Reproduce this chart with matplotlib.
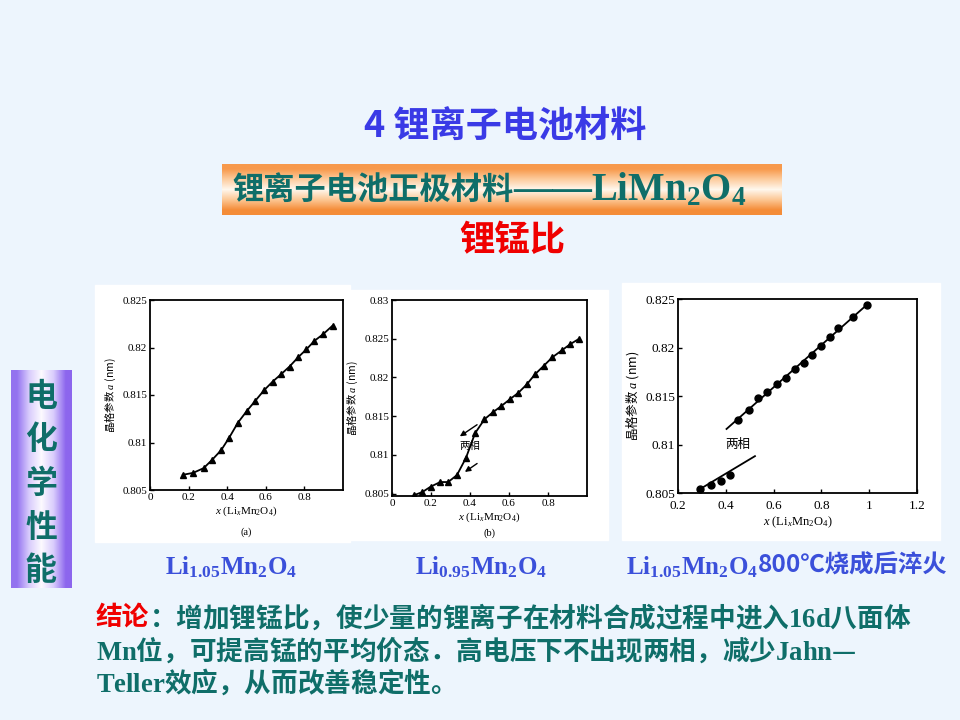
import numpy as np
import matplotlib
matplotlib.use('Agg')
import matplotlib.pyplot as plt
from matplotlib.ticker import FuncFormatter

plt.rcParams['font.family'] = ['Noto Sans CJK SC', 'DejaVu Sans']
plt.rcParams['mathtext.fontset'] = 'custom'
plt.rcParams['mathtext.rm'] = 'Liberation Serif'
plt.rcParams['mathtext.it'] = 'Liberation Serif:italic'
plt.rcParams['mathtext.bf'] = 'Liberation Serif:bold'

# 数据 (a) Li1.05Mn2O4
a_x = [0.170, 0.223, 0.278, 0.323, 0.369, 0.410, 0.456, 0.501, 0.546, 0.591,
       0.635, 0.680, 0.723, 0.769, 0.810, 0.852, 0.897, 0.946]
a_y = [0.8066, 0.8068, 0.8073, 0.8082, 0.8092, 0.8105, 0.8121, 0.8133, 0.8144, 0.8155,
       0.8164, 0.8172, 0.8180, 0.8190, 0.8198, 0.8207, 0.8214, 0.8223]

# 数据 (b) Li0.95Mn2O4
b_x = [0.112, 0.155, 0.198, 0.247, 0.288, 0.333, 0.379, 0.426, 0.474, 0.517,
       0.560, 0.605, 0.647, 0.691, 0.733, 0.778, 0.822, 0.871, 0.914, 0.960]
b_y = [0.8048, 0.8052, 0.8059, 0.8065, 0.8065, 0.8074, 0.8096, 0.8128, 0.8146, 0.8155,
       0.8163, 0.8172, 0.8180, 0.8191, 0.8204, 0.8215, 0.8226, 0.8235, 0.8243, 0.8250]
b_arrow_hi = [(0.448, 0.8141), (0.336, 0.8122)]
b_arrow_lo = [(0.448, 0.8091), (0.362, 0.8076)]
b_note = (0.397, 0.8112)

# 数据 (c) 800℃淬火
c_lo_x = [0.291, 0.340, 0.378, 0.417]
c_lo_y = [0.8054, 0.8058, 0.8062, 0.8069]
c_lo_fit = [(0.285, 0.8053), (0.522, 0.8088)]
c_hi_x = [0.453, 0.495, 0.536, 0.573, 0.613, 0.650, 0.691, 0.729, 0.761, 0.799,
          0.836, 0.871, 0.934, 0.990]
c_hi_y = [0.8125, 0.8136, 0.8148, 0.8154, 0.8162, 0.8169, 0.8178, 0.8184, 0.8192, 0.8202,
          0.8211, 0.8220, 0.8231, 0.8244]
c_hi_fit = [(0.403, 0.8116), (0.990, 0.8244)]
c_note = (0.452, 0.8100)

y_ticks = [0.805, 0.81, 0.815, 0.82, 0.825]
captions = [r'$\mathbf{Li_{1.05}Mn_2O_4}$', r'$\mathbf{Li_{0.95}Mn_2O_4}$',
            r'$\mathbf{Li_{1.05}Mn_2O_4}$']
caption_tail = ['', '', '800℃烧成后淬火']

BG = '#EDF5FD'
TEAL = '#0F6E69'
BLUE = '#3A3AE6'
CAP_BLUE = '#3B50DA'

fig = plt.figure(figsize=(9.6, 7.2), dpi=100, facecolor=BG)
bg = fig.add_axes([0, 0, 1, 1], zorder=-1)
bg.set_xlim(0, 960)
bg.set_ylim(720, 0)
bg.axis('off')
bg.set_facecolor(BG)

# 白色图片底
for (x0, y0, w, h) in [(95, 285, 255, 257), (350, 290, 258, 250), (622, 283, 318, 257)]:
    bg.add_patch(plt.Rectangle((x0, y0), w, h, color='white', zorder=0))

# 标题
bg.text(505, 127, '4 锂离子电池材料', color=BLUE, fontsize=26, fontweight='bold',
        ha='center', va='center')

# 橙色横条
orange = np.array([[0.97, 0.60, 0.30], [0.99, 0.80, 0.62], [1.0, 0.97, 0.93],
                   [0.99, 0.78, 0.58], [0.96, 0.55, 0.22]])
bg.imshow(orange.reshape(5, 1, 3), extent=(222, 782, 215, 164), aspect='auto',
          interpolation='bilinear', zorder=1)
t_ban = bg.text(232, 190, '锂离子电池正极材料', color=TEAL, fontsize=22.5, fontweight='bold',
                ha='left', va='center', zorder=2)
bg.annotate('——LiMn$_\\mathbf{2}$O$_\\mathbf{4}$', xy=(1, 0.5), xycoords=t_ban,
            ha='left', va='center', color=TEAL, fontsize=28, fontweight='bold',
            family='Liberation Serif', zorder=2)
bg.text(512, 240, '锂锰比', color='#F00000', fontsize=25.5, fontweight='bold',
        ha='center', va='center')

# 左侧紫色竖条
purple = np.array([[0.58, 0.45, 0.94], [0.85, 0.80, 0.99], [0.99, 0.98, 1.0],
                   [0.85, 0.80, 0.99], [0.55, 0.40, 0.93]])
bg.imshow(purple.reshape(1, 5, 3), extent=(11, 72, 588, 370), aspect='auto',
          interpolation='bilinear', zorder=1)
for i, ch in enumerate('电化学性能'):
    bg.text(41, 397 + i * 43.5, ch, color=TEAL, fontsize=23, fontweight='bold',
            ha='center', va='center', zorder=2)

# 三个子图
def style(ax, fs, xpad=2):
    for s in ax.spines.values():
        s.set_linewidth(1.3)
    ax.tick_params(direction='in', length=3, width=1, labelsize=fs, pad=2)
    ax.tick_params(axis='x', pad=xpad)
    for lab in ax.get_xticklabels() + ax.get_yticklabels():
        lab.set_fontfamily('Liberation Serif')
    ax.yaxis.set_major_formatter(FuncFormatter(lambda v, p: '%g' % v))
    ax.xaxis.set_major_formatter(FuncFormatter(lambda v, p: '%g' % v))

xlab = r'$x$ (Li$_x$Mn$_2$O$_4$)'
ylab = '晶格参数 $a$ (nm)'

ax1 = fig.add_axes([150 / 960, 1 - 490 / 720, 193 / 960, 190 / 720])
ax1.plot(a_x, a_y, color='black', lw=1.3, marker='^', ms=4.5)
ax1.set_xlim(0, 1.0)
ax1.set_ylim(0.805, 0.825)
ax1.set_xticks([0, 0.2, 0.4, 0.6, 0.8])
ax1.set_yticks(y_ticks)
style(ax1, 8)
ax1.set_xlabel(xlab, fontsize=8, family=['Liberation Serif', 'Noto Sans CJK SC'], labelpad=2)
ax1.set_ylabel(ylab, fontsize=7.5, labelpad=3)
ax1.text(0.5, -0.22, '(a)', transform=ax1.transAxes, ha='center', va='center',
         fontsize=7.5, family='Liberation Serif')

ax2 = fig.add_axes([392 / 960, 1 - 496 / 720, 195 / 960, 196 / 720])
ax2.plot(b_x, b_y, color='black', lw=1.3, marker='^', ms=4.5)
ax2.set_xlim(0, 1.0)
ax2.set_ylim(0.8047, 0.83)
ax2.set_xticks([0, 0.2, 0.4, 0.6, 0.8])
ax2.set_yticks(y_ticks + [0.83])
style(ax2, 8)
for pts in (b_arrow_hi, b_arrow_lo):
    ax2.annotate('', xy=pts[1], xytext=pts[0],
                 arrowprops=dict(arrowstyle='-|>', color='black', lw=1, mutation_scale=8))
ax2.text(b_note[0], b_note[1], '两相', fontsize=7.5, ha='center', va='center')
ax2.set_xlabel(xlab, fontsize=8, family=['Liberation Serif', 'Noto Sans CJK SC'], labelpad=2)
ax2.set_ylabel(ylab, fontsize=7.5, labelpad=3)
ax2.text(0.5, -0.19, '(b)', transform=ax2.transAxes, ha='center', va='center',
         fontsize=7.5, family='Liberation Serif')

ax3 = fig.add_axes([678 / 960, 1 - 493 / 720, 239 / 960, 194 / 720])
ax3.plot(*zip(*c_lo_fit), color='black', lw=1.3)
ax3.plot(*zip(*c_hi_fit), color='black', lw=1.3)
ax3.plot(c_lo_x, c_lo_y, 'o', color='black', ms=5)
ax3.plot(c_hi_x, c_hi_y, 'o', color='black', ms=5)
ax3.set_xlim(0.2, 1.2)
ax3.set_ylim(0.805, 0.825)
ax3.set_xticks([0.2, 0.4, 0.6, 0.8, 1.0, 1.2])
ax3.set_yticks(y_ticks)
style(ax3, 9.5, xpad=5)
ax3.text(c_note[0], c_note[1], '两相', fontsize=9, ha='center', va='center')
ax3.set_xlabel(xlab, fontsize=9, family=['Liberation Serif', 'Noto Sans CJK SC'], labelpad=2)
ax3.set_ylabel(ylab, fontsize=9, labelpad=3)

# 图注
for cx, txt, tail in zip([165, 415, 626], captions, caption_tail):
    tc = bg.text(cx, 567, txt, color=CAP_BLUE, fontsize=18, fontweight='bold',
                 ha='left', va='center')
    if tail:
        bg.annotate(tail, xy=(1, 0.55), xycoords=tc, ha='left', va='center',
                    color=CAP_BLUE, fontsize=17.6, fontweight='bold')

# 结论
t1 = bg.text(96, 617, '结论', color='#F00000', fontsize=19.2, fontweight='bold',
             ha='left', va='center')
bg.annotate('：增加锂锰比，使少量的锂离子在材料合成过程中进入$\\mathbf{16d}$八面体',
            xy=(1, 0.5), xycoords=t1, ha='left', va='center', color=TEAL,
            fontsize=19.2, fontweight='bold')
bg.text(96, 650, '$\\mathbf{Mn}$位，可提高锰的平均价态．高电压下不出现两相，减少$\\mathbf{Jahn}$—',
        color=TEAL, fontsize=19.2, fontweight='bold', ha='left', va='center')
bg.text(96, 682, '$\\mathbf{Teller}$效应，从而改善稳定性。', color=TEAL, fontsize=19.2,
        fontweight='bold', ha='left', va='center')

fig.savefig('out.png', dpi=100, facecolor=BG)
